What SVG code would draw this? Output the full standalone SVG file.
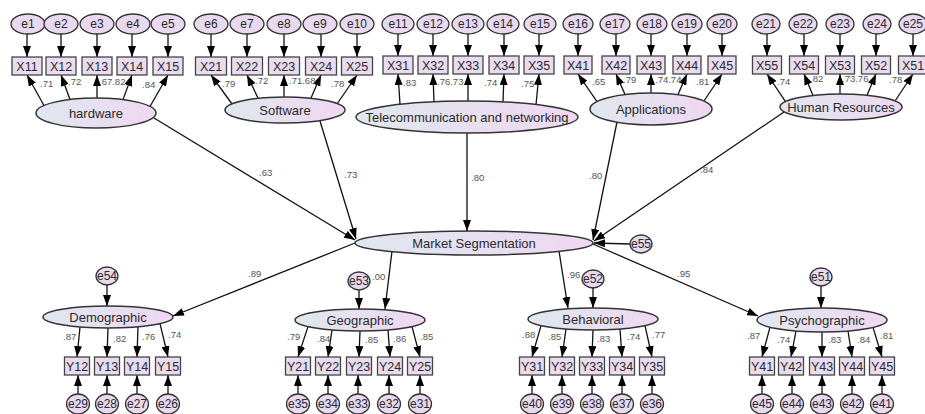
<svg xmlns="http://www.w3.org/2000/svg" width="925" height="414" viewBox="0 0 925 414">
<defs>
<linearGradient id="g" x1="0" y1="0" x2="1" y2="0">
<stop offset="0" stop-color="#dfe7ef"/>
<stop offset="1" stop-color="#efd8f1"/>
</linearGradient>
<marker id="a" markerUnits="userSpaceOnUse" markerWidth="11" markerHeight="8" viewBox="0 0 11 8" refX="11" refY="4" orient="auto">
<path d="M0,0 L11,4 L0,8 z" fill="#000"/>
</marker>
</defs>
<style>
.lat{fill:url(#g);stroke:#333;stroke-width:1.5}
.obs{fill:#e9dcf0;stroke:#444;stroke-width:1.3}
.err{fill:#e8d9ef;stroke:#333;stroke-width:1.3}
.c path{fill:none;stroke:#111;stroke-width:1.3;marker-end:url(#a)}
text{font-family:"Liberation Sans",Arial,sans-serif;fill:#2a2a2a}
.lt{font-size:13px;text-anchor:middle}
.bt{font-size:12.5px;text-anchor:middle}
.et{font-size:12px;text-anchor:middle}
.n{font-size:9.5px;fill:#555}
</style>
<rect width="925" height="414" fill="#fff"/>
<g class="c" id="connectors">
<!-- top e -> X -->
<path d="M27,34 L27,57"/><path d="M61,34 L61,57"/><path d="M97,34 L97,57"/><path d="M132,34 L132,57"/><path d="M168,34 L168,57"/>
<path d="M211,34 L211,57"/><path d="M247,34 L247,57"/><path d="M284,34 L284,57"/><path d="M321,34 L321,57"/><path d="M357,34 L357,57"/>
<path d="M398,34 L398,56"/><path d="M433,34 L433,56"/><path d="M468,34 L468,56"/><path d="M504,34 L504,56"/><path d="M539,34 L539,56"/>
<path d="M578,34 L578,56"/><path d="M616,34 L616,56"/><path d="M651,34 L651,56"/><path d="M687,34 L687,56"/><path d="M722,34 L722,56"/>
<path d="M767,34 L767,56"/><path d="M804,34 L804,56"/><path d="M840,34 L840,56"/><path d="M876,34 L876,56"/><path d="M913,34 L913,56"/>
<!-- latent -> X -->
<path d="M44,105.5 L27,75"/><path d="M70,99.5 L61,75"/><path d="M97,98 L97,75"/><path d="M123,99.6 L132,75"/><path d="M150,106.5 L168,75"/>
<path d="M232,104 L211,75"/><path d="M258,98 L247,75"/><path d="M284,97 L284,75"/><path d="M311,98 L321,75"/><path d="M337,104 L357,75"/>
<path d="M400,104 L398,74"/><path d="M434,102 L433,74"/><path d="M468,101 L468,74"/><path d="M503,102 L504,74"/><path d="M536,104.5 L539,74"/>
<path d="M597,101.6 L578,74"/><path d="M625,94.5 L616,74"/><path d="M651,93 L651,74"/><path d="M678,94.6 L687,74"/><path d="M704,101 L722,74"/>
<path d="M785.5,101.6 L767,74"/><path d="M813,95.5 L804,74"/><path d="M840,94 L840,74"/><path d="M867,95.2 L876,74"/><path d="M895,101 L913,74"/>
<!-- structural -->
<path d="M154,118 L355,240"/>
<path d="M320,121 L356,239"/>
<path d="M467,133 L467,231"/>
<path d="M617,122 L593,240"/>
<path d="M784,112 L594,241"/>
<path d="M630,244 L594,243"/>
<path d="M355,243 L173,316"/>
<path d="M392,251 L385,309"/>
<path d="M559,251 L568,308"/>
<path d="M593,244 L758,316"/>
<!-- disturbances -->
<path d="M107,285 L107,306"/><path d="M359,290 L359,309"/><path d="M593,288 L593,308"/><path d="M821,286 L821,308"/>
<!-- latent -> Y -->
<path d="M80,327 L77,357"/><path d="M108,328 L107,357"/><path d="M138,326.8 L137,357"/><path d="M160,323.6 L168,357"/>
<path d="M308,326.6 L298,357"/><path d="M332,329.9 L328,357"/><path d="M360,331 L359,357"/><path d="M388,329.9 L390,357"/><path d="M412,326.6 L420,357"/>
<path d="M541,325.6 L532,357"/><path d="M566,329 L562,357"/><path d="M593,330 L592,357"/><path d="M620,329 L622,357"/><path d="M645,325.6 L652,357"/>
<path d="M770,327.2 L762,357"/><path d="M796,331 L791,357"/><path d="M822,332 L822,357"/><path d="M848,331 L852,357"/><path d="M873,327.4 L882,357"/>
<!-- bottom e -> Y -->
<path d="M78,394 L78,375"/><path d="M107,394 L107,375"/><path d="M137,394 L137,375"/><path d="M168,394 L168,375"/>
<path d="M298,394 L298,375"/><path d="M328,394 L328,375"/><path d="M358,394 L358,375"/><path d="M389,394 L389,375"/><path d="M420,394 L420,375"/>
<path d="M532,394 L532,375"/><path d="M562,394 L562,375"/><path d="M592,394 L592,375"/><path d="M622,394 L622,375"/><path d="M652,394 L652,375"/>
<path d="M762,394 L762,375"/><path d="M792,394 L792,375"/><path d="M822,394 L822,375"/><path d="M852,394 L852,375"/><path d="M882,394 L882,375"/>
</g>

<g id="hardware-group">
<ellipse class="err" cx="28" cy="24" rx="17" ry="10"/><text class="et" x="28" y="28">e1</text>
<ellipse class="err" cx="61" cy="24" rx="17" ry="10"/><text class="et" x="61" y="28">e2</text>
<ellipse class="err" cx="97" cy="24" rx="17" ry="10"/><text class="et" x="97" y="28">e3</text>
<ellipse class="err" cx="133" cy="24" rx="17" ry="10"/><text class="et" x="133" y="28">e4</text>
<ellipse class="err" cx="168" cy="24" rx="17" ry="10"/><text class="et" x="168" y="28">e5</text>
<rect class="obs" x="12" y="57" width="30" height="18"/><text class="bt" x="27" y="70.5">X11</text>
<rect class="obs" x="46" y="57" width="30" height="18"/><text class="bt" x="61" y="70.5">X12</text>
<rect class="obs" x="82" y="57" width="30" height="18"/><text class="bt" x="97" y="70.5">X13</text>
<rect class="obs" x="117" y="57" width="30" height="18"/><text class="bt" x="132" y="70.5">X14</text>
<rect class="obs" x="153" y="57" width="30" height="18"/><text class="bt" x="168" y="70.5">X15</text>
<ellipse id="hardware" class="lat" cx="96" cy="113" rx="60" ry="15"/><text class="lt" x="96" y="117.5">hardware</text>
<text class="n" x="40" y="87">.71</text><text class="n" x="68" y="85">.72</text><text class="n" x="99" y="85">.67.82</text><text class="n" x="142" y="88">.84</text>
</g>

<g id="software-group">
<ellipse class="err" cx="211" cy="24" rx="17" ry="10"/><text class="et" x="211" y="28">e6</text>
<ellipse class="err" cx="247" cy="24" rx="17" ry="10"/><text class="et" x="247" y="28">e7</text>
<ellipse class="err" cx="284" cy="24" rx="17" ry="10"/><text class="et" x="284" y="28">e8</text>
<ellipse class="err" cx="320" cy="24" rx="17" ry="10"/><text class="et" x="320" y="28">e9</text>
<ellipse class="err" cx="357" cy="24" rx="17" ry="10"/><text class="et" x="357" y="28">e10</text>
<rect class="obs" x="195.5" y="57" width="31" height="18"/><text class="bt" x="211" y="70.5">X21</text>
<rect class="obs" x="231.5" y="57" width="31" height="18"/><text class="bt" x="247" y="70.5">X22</text>
<rect class="obs" x="268.5" y="57" width="31" height="18"/><text class="bt" x="284" y="70.5">X23</text>
<rect class="obs" x="305.5" y="57" width="31" height="18"/><text class="bt" x="321" y="70.5">X24</text>
<rect class="obs" x="341.5" y="57" width="31" height="18"/><text class="bt" x="357" y="70.5">X25</text>
<ellipse id="software" class="lat" cx="285" cy="110" rx="60" ry="13"/><text class="lt" x="285" y="114.5">Software</text>
<text class="n" x="222" y="87">.79</text><text class="n" x="255" y="84">.72</text><text class="n" x="289" y="84">.71.68</text><text class="n" x="331" y="87">.78</text>
</g>

<g id="telecom-group">
<ellipse class="err" cx="398" cy="24" rx="16" ry="10"/><text class="et" x="398" y="28">e11</text>
<ellipse class="err" cx="433" cy="24" rx="16" ry="10"/><text class="et" x="433" y="28">e12</text>
<ellipse class="err" cx="468" cy="24" rx="16" ry="10"/><text class="et" x="468" y="28">e13</text>
<ellipse class="err" cx="503" cy="24" rx="16" ry="10"/><text class="et" x="503" y="28">e14</text>
<ellipse class="err" cx="540" cy="24" rx="16" ry="10"/><text class="et" x="540" y="28">e15</text>
<rect class="obs" x="383" y="56" width="30" height="18"/><text class="bt" x="398" y="69.5">X31</text>
<rect class="obs" x="418" y="56" width="30" height="18"/><text class="bt" x="433" y="69.5">X32</text>
<rect class="obs" x="453" y="56" width="30" height="18"/><text class="bt" x="468" y="69.5">X33</text>
<rect class="obs" x="489" y="56" width="30" height="18"/><text class="bt" x="504" y="69.5">X34</text>
<rect class="obs" x="524" y="56" width="30" height="18"/><text class="bt" x="539" y="69.5">X35</text>
<ellipse id="telecom" class="lat" cx="467" cy="117" rx="111" ry="16"/><text class="lt" x="467" y="121.5">Telecommunication and networking</text>
<text class="n" x="403" y="86">.83</text><text class="n" x="437" y="85">.76.73</text><text class="n" x="484" y="86">.74</text><text class="n" x="521" y="87">.75</text>
</g>

<g id="applications-group">
<ellipse class="err" cx="578" cy="24" rx="15" ry="10"/><text class="et" x="578" y="28">e16</text>
<ellipse class="err" cx="615" cy="24" rx="15" ry="10"/><text class="et" x="615" y="28">e17</text>
<ellipse class="err" cx="652" cy="24" rx="15" ry="10"/><text class="et" x="652" y="28">e18</text>
<ellipse class="err" cx="687" cy="24" rx="15" ry="10"/><text class="et" x="687" y="28">e19</text>
<ellipse class="err" cx="722" cy="24" rx="15" ry="10"/><text class="et" x="722" y="28">e20</text>
<rect class="obs" x="564" y="56" width="28" height="18"/><text class="bt" x="578" y="69.5">X41</text>
<rect class="obs" x="602" y="56" width="28" height="18"/><text class="bt" x="616" y="69.5">X42</text>
<rect class="obs" x="637" y="56" width="28" height="18"/><text class="bt" x="651" y="69.5">X43</text>
<rect class="obs" x="673" y="56" width="28" height="18"/><text class="bt" x="687" y="69.5">X44</text>
<rect class="obs" x="708" y="56" width="28" height="18"/><text class="bt" x="722" y="69.5">X45</text>
<ellipse id="applications" class="lat" cx="651" cy="109" rx="61" ry="16"/><text class="lt" x="651" y="113.5">Applications</text>
<text class="n" x="592" y="85">.65</text><text class="n" x="623" y="83">.79</text><text class="n" x="655" y="83">.74.74</text><text class="n" x="696" y="85">.81</text>
</g>

<g id="hr-group">
<ellipse class="err" cx="766" cy="24" rx="14" ry="10"/><text class="et" x="766" y="28">e21</text>
<ellipse class="err" cx="803" cy="24" rx="14" ry="10"/><text class="et" x="803" y="28">e22</text>
<ellipse class="err" cx="840" cy="24" rx="14" ry="10"/><text class="et" x="840" y="28">e23</text>
<ellipse class="err" cx="877" cy="24" rx="14" ry="10"/><text class="et" x="877" y="28">e24</text>
<ellipse class="err" cx="913" cy="24" rx="14" ry="10"/><text class="et" x="913" y="28">e25</text>
<rect class="obs" x="752.5" y="56" width="29" height="18"/><text class="bt" x="767" y="69.5">X55</text>
<rect class="obs" x="789.5" y="56" width="29" height="18"/><text class="bt" x="804" y="69.5">X54</text>
<rect class="obs" x="825.5" y="56" width="29" height="18"/><text class="bt" x="840" y="69.5">X53</text>
<rect class="obs" x="861.5" y="56" width="29" height="18"/><text class="bt" x="876" y="69.5">X52</text>
<rect class="obs" x="898.5" y="56" width="29" height="18"/><text class="bt" x="913" y="69.5">X51</text>
<ellipse id="hr" class="lat" cx="841" cy="107" rx="61" ry="13"/><text class="lt" x="841" y="111.5">Human Resources</text>
<text class="n" x="777" y="85">.74</text><text class="n" x="810" y="82">.82</text><text class="n" x="842" y="82">.73.76</text><text class="n" x="889" y="83">.78</text>
</g>

<g id="market-segmentation">
<ellipse class="lat" cx="474" cy="243" rx="119" ry="12"/><text class="lt" x="474" y="247.5">Market Segmentation</text>
<ellipse class="err" cx="641" cy="244" rx="11" ry="9"/><text class="et" x="641" y="248">e55</text>
<text class="n" x="259" y="176">.63</text>
<text class="n" x="344" y="178">.73</text>
<text class="n" x="471" y="181">.80</text>
<text class="n" x="589" y="179">.80</text>
<text class="n" x="700" y="173">.84</text>
<text class="n" x="248" y="277">.89</text>
<text class="n" x="372" y="280">.00</text>
<text class="n" x="567" y="278">.96</text>
<text class="n" x="677" y="277">.95</text>
</g>

<g id="demographic-group">
<ellipse class="err" cx="107" cy="276" rx="11" ry="9"/><text class="et" x="107" y="280">e54</text>
<ellipse class="lat" cx="108" cy="317" rx="65" ry="11"/><text class="lt" x="108" y="321.5">Demographic</text>
<rect class="obs" x="64.5" y="357" width="25" height="18"/><text class="bt" x="77" y="370.5">Y12</text>
<rect class="obs" x="94.5" y="357" width="25" height="18"/><text class="bt" x="107" y="370.5">Y13</text>
<rect class="obs" x="124.5" y="357" width="25" height="18"/><text class="bt" x="137" y="370.5">Y14</text>
<rect class="obs" x="155.5" y="357" width="25" height="18"/><text class="bt" x="168" y="370.5">Y15</text>
<ellipse class="err" cx="78" cy="404" rx="11.5" ry="10"/><text class="et" x="78" y="408">e29</text>
<ellipse class="err" cx="107" cy="404" rx="11.5" ry="10"/><text class="et" x="107" y="408">e28</text>
<ellipse class="err" cx="137" cy="404" rx="11.5" ry="10"/><text class="et" x="137" y="408">e27</text>
<ellipse class="err" cx="168" cy="404" rx="11.5" ry="10"/><text class="et" x="168" y="408">e26</text>
<text class="n" x="63" y="340">.87</text><text class="n" x="113" y="342">.82</text><text class="n" x="142" y="340">.76</text><text class="n" x="168" y="338">.74</text>
</g>

<g id="geographic-group">
<ellipse class="err" cx="359" cy="281" rx="11" ry="9"/><text class="et" x="359" y="285">e53</text>
<ellipse class="lat" cx="360" cy="320" rx="65" ry="11"/><text class="lt" x="360" y="324.5">Geographic</text>
<rect class="obs" x="285.5" y="357" width="25" height="18"/><text class="bt" x="298" y="370.5">Y21</text>
<rect class="obs" x="315.5" y="357" width="25" height="18"/><text class="bt" x="328" y="370.5">Y22</text>
<rect class="obs" x="346.5" y="357" width="25" height="18"/><text class="bt" x="359" y="370.5">Y23</text>
<rect class="obs" x="377.5" y="357" width="25" height="18"/><text class="bt" x="390" y="370.5">Y24</text>
<rect class="obs" x="407.5" y="357" width="25" height="18"/><text class="bt" x="420" y="370.5">Y25</text>
<ellipse class="err" cx="298" cy="404" rx="11.5" ry="10"/><text class="et" x="298" y="408">e35</text>
<ellipse class="err" cx="328" cy="404" rx="11.5" ry="10"/><text class="et" x="328" y="408">e34</text>
<ellipse class="err" cx="358" cy="404" rx="11.5" ry="10"/><text class="et" x="358" y="408">e33</text>
<ellipse class="err" cx="389" cy="404" rx="11.5" ry="10"/><text class="et" x="389" y="408">e32</text>
<ellipse class="err" cx="420" cy="404" rx="11.5" ry="10"/><text class="et" x="420" y="408">e31</text>
<text class="n" x="287" y="340">.79</text><text class="n" x="317" y="342">.84</text><text class="n" x="365" y="343">.85</text><text class="n" x="393" y="342">.86</text><text class="n" x="420" y="340">.85</text>
</g>

<g id="behavioral-group">
<ellipse class="err" cx="593" cy="279" rx="11" ry="9"/><text class="et" x="593" y="283">e52</text>
<ellipse class="lat" cx="593" cy="319" rx="65" ry="11"/><text class="lt" x="593" y="323.5">Behavioral</text>
<rect class="obs" x="519.5" y="357" width="25" height="18"/><text class="bt" x="532" y="370.5">Y31</text>
<rect class="obs" x="549.5" y="357" width="25" height="18"/><text class="bt" x="562" y="370.5">Y32</text>
<rect class="obs" x="579.5" y="357" width="25" height="18"/><text class="bt" x="592" y="370.5">Y33</text>
<rect class="obs" x="609.5" y="357" width="25" height="18"/><text class="bt" x="622" y="370.5">Y34</text>
<rect class="obs" x="639.5" y="357" width="25" height="18"/><text class="bt" x="652" y="370.5">Y35</text>
<ellipse class="err" cx="532" cy="404" rx="11.5" ry="10"/><text class="et" x="532" y="408">e40</text>
<ellipse class="err" cx="562" cy="404" rx="11.5" ry="10"/><text class="et" x="562" y="408">e39</text>
<ellipse class="err" cx="592" cy="404" rx="11.5" ry="10"/><text class="et" x="592" y="408">e38</text>
<ellipse class="err" cx="622" cy="404" rx="11.5" ry="10"/><text class="et" x="622" y="408">e37</text>
<ellipse class="err" cx="652" cy="404" rx="11.5" ry="10"/><text class="et" x="652" y="408">e36</text>
<text class="n" x="522" y="338">.88</text><text class="n" x="548" y="340">.85</text><text class="n" x="597" y="342">.83</text><text class="n" x="627" y="340">.74</text><text class="n" x="652" y="338">.77</text>
</g>

<g id="psychographic-group">
<ellipse class="err" cx="821" cy="277" rx="11" ry="9"/><text class="et" x="821" y="281">e51</text>
<ellipse class="lat" cx="822" cy="320" rx="65" ry="12"/><text class="lt" x="822" y="324.5">Psychographic</text>
<rect class="obs" x="749.5" y="357" width="25" height="18"/><text class="bt" x="762" y="370.5">Y41</text>
<rect class="obs" x="778.5" y="357" width="25" height="18"/><text class="bt" x="791" y="370.5">Y42</text>
<rect class="obs" x="809.5" y="357" width="25" height="18"/><text class="bt" x="822" y="370.5">Y43</text>
<rect class="obs" x="839.5" y="357" width="25" height="18"/><text class="bt" x="852" y="370.5">Y44</text>
<rect class="obs" x="869.5" y="357" width="25" height="18"/><text class="bt" x="882" y="370.5">Y45</text>
<ellipse class="err" cx="762" cy="404" rx="11.5" ry="10"/><text class="et" x="762" y="408">e45</text>
<ellipse class="err" cx="792" cy="404" rx="11.5" ry="10"/><text class="et" x="792" y="408">e44</text>
<ellipse class="err" cx="822" cy="404" rx="11.5" ry="10"/><text class="et" x="822" y="408">e43</text>
<ellipse class="err" cx="852" cy="404" rx="11.5" ry="10"/><text class="et" x="852" y="408">e42</text>
<ellipse class="err" cx="882" cy="404" rx="11.5" ry="10"/><text class="et" x="882" y="408">e41</text>
<text class="n" x="747" y="339">.87</text><text class="n" x="777" y="343">.74</text><text class="n" x="828" y="343">.83</text><text class="n" x="857" y="343">.84</text><text class="n" x="880" y="339">.81</text>
</g>
</svg>
